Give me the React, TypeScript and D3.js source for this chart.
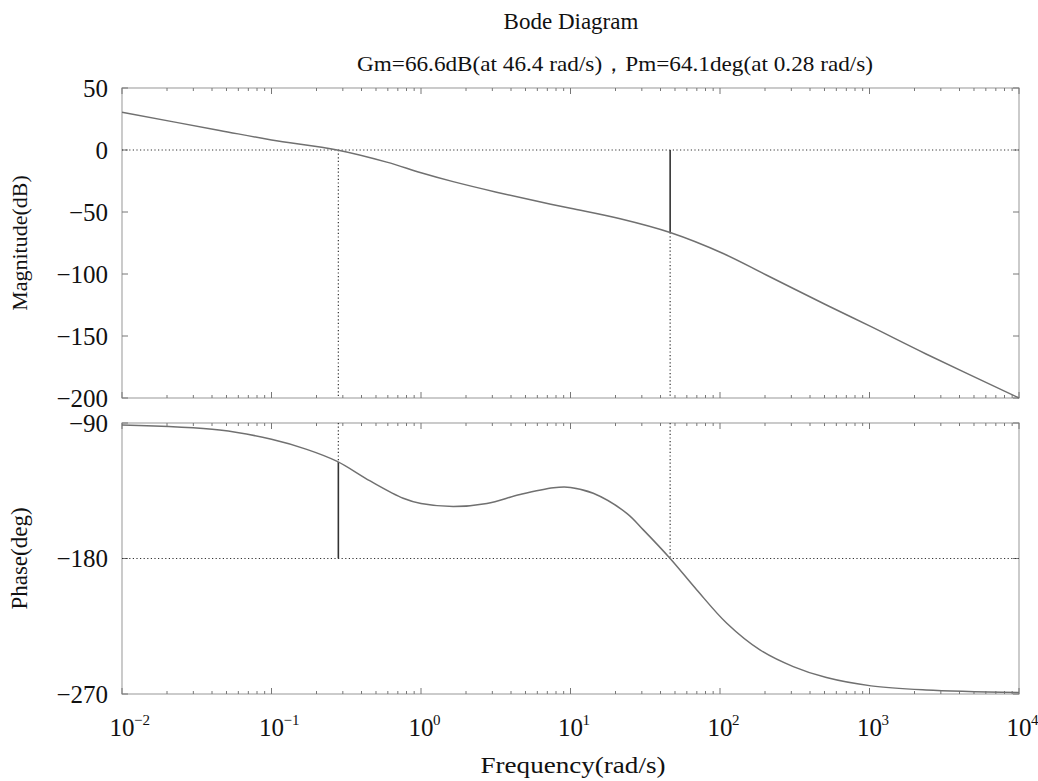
import React from "react";
import * as d3 from "d3";

// magnitude curve (rad/s, dB)
const magFreq = [0.01, 0.045, 0.1, 0.275, 0.59, 1.0, 1.64, 3.2, 5.9, 10, 21.5, 46.4, 105, 204, 515, 1025, 2390, 10000];
const magDb = [30.4, 15.8, 8.1, 0, -9.8, -18.3, -25.5, -34, -41.2, -47, -55.5, -66.6, -83.5, -100.8, -125, -142.5, -164.5, -200];

// phase curve (rad/s, deg)
const phaseFreq = [0.01, 0.045, 0.1, 0.172, 0.275, 0.457, 0.76, 1.0, 1.64, 2.76, 4.6, 7.7, 10, 14.2, 23.8, 30.7, 46.4, 70, 111, 185, 309, 515, 1025, 2390, 10000];
const phaseDeg = [-91.3, -94.6, -100.8, -107.5, -115.5, -128.5, -140, -143.5, -145.5, -143.5, -137.5, -133, -132.8, -136.7, -150, -161, -180, -200.9, -223, -240.7, -251.8, -259.1, -264.6, -267.3, -269];

const magTicks = [50, 0, -50, -100, -150, -200];
const phaseTicks = [-90, -180, -270];
const decades = [-2, -1, 0, 1, 2, 3, 4];

const gmFreq = 46.4;
const gmDb = -66.6;
const pmFreq = 0.28;
const pmDeg = -115.9;

const FONT = "'Liberation Serif', 'Times New Roman', serif";
const BOX = "#a8a8a8";
const TICK = "#777";
const CURVE = "#707070";
const MARK = "#333";

function Panel({ x, y, ticks }) {
  const [x0, x1] = x.range();
  const [yb, yt] = y.range();
  const minors = [];
  decades.slice(0, -1).forEach(d => {
    for (let k = 2; k < 10; k++) minors.push(k * Math.pow(10, d));
  });
  return (
    <g>
      <rect x={x0} y={yt} width={x1 - x0} height={yb - yt} fill="none" stroke={BOX} strokeWidth={1.2} />
      {decades.map(d => {
        const px = x(Math.pow(10, d));
        return (
          <g key={"M" + d} stroke={TICK} strokeWidth={1}>
            <line x1={px} x2={px} y1={yt} y2={yt + 6} />
            <line x1={px} x2={px} y1={yb} y2={yb - 6} />
          </g>
        );
      })}
      {minors.map((f, i) => {
        const px = x(f);
        return (
          <g key={"m" + i} stroke={TICK} strokeWidth={1}>
            <line x1={px} x2={px} y1={yt} y2={yt + 3} />
            <line x1={px} x2={px} y1={yb} y2={yb - 3} />
          </g>
        );
      })}
      {ticks.map(t => (
        <g key={"y" + t}>
          <line x1={x0} x2={x0 + 6} y1={y(t)} y2={y(t)} stroke={TICK} />
          <line x1={x1} x2={x1 - 6} y1={y(t)} y2={y(t)} stroke={TICK} />
          <text x={x0 - 14} y={y(t)} dy="0.35em" textAnchor="end" fontSize={25} fontFamily={FONT} fill="#111">
            {t < 0 ? "\u2212" + Math.abs(t) : t}
          </text>
        </g>
      ))}
    </g>
  );
}

export default function App() {
  const width = 1038;
  const height = 781;

  const x = d3.scaleLog().domain([1e-2, 1e4]).range([122, 1019]);
  const yMag = d3.scaleLinear().domain([-200, 50]).range([398, 88]);
  const yPh = d3.scaleLinear().domain([-270, -90]).range([694, 423]);

  const curve = d3.curveCatmullRom.alpha(0.5);
  const magPath = d3.line().x((d, i) => x(magFreq[i])).y(d => yMag(d)).curve(curve)(magDb);
  const phPath = d3.line().x((d, i) => x(phaseFreq[i])).y(d => yPh(d)).curve(curve)(phaseDeg);

  const dots = { stroke: MARK, strokeWidth: 1.2, strokeDasharray: "1.2,2.4" };
  const solid = { stroke: MARK, strokeWidth: 1.6 };

  return (
    <svg width={width} height={height} style={{ position: "absolute", left: 0, top: 0, background: "#fff" }}>
      <text x={571} y={29} textAnchor="middle" fontSize={23} fontFamily={FONT} fill="#111">Bode Diagram</text>
      <text x={615} y={71} textAnchor="middle" fontSize={22} fontFamily={FONT} fill="#111" textLength={516} lengthAdjust="spacingAndGlyphs">
        Gm=66.6dB(at 46.4 rad/s)，Pm=64.1deg(at 0.28 rad/s)
      </text>

      <Panel x={x} y={yMag} ticks={magTicks} />
      <Panel x={x} y={yPh} ticks={phaseTicks} />

      {/* crossover reference lines */}
      <line x1={x(1e-2)} x2={x(1e4)} y1={yMag(0)} y2={yMag(0)} {...dots} />
      <line x1={x(1e-2)} x2={x(1e4)} y1={yPh(-180)} y2={yPh(-180)} {...dots} />
      <line x1={x(pmFreq)} x2={x(pmFreq)} y1={yMag(0)} y2={yMag(-200)} {...dots} />
      <line x1={x(gmFreq)} x2={x(gmFreq)} y1={yMag(gmDb)} y2={yMag(-200)} {...dots} />
      <line x1={x(gmFreq)} x2={x(gmFreq)} y1={yMag(0)} y2={yMag(gmDb)} {...solid} />
      <line x1={x(pmFreq)} x2={x(pmFreq)} y1={yPh(-90)} y2={yPh(pmDeg)} {...dots} />
      <line x1={x(pmFreq)} x2={x(pmFreq)} y1={yPh(pmDeg)} y2={yPh(-180)} {...solid} />
      <line x1={x(gmFreq)} x2={x(gmFreq)} y1={yPh(-90)} y2={yPh(-180)} {...dots} />

      <path d={magPath} fill="none" stroke={CURVE} strokeWidth={1.5} />
      <path d={phPath} fill="none" stroke={CURVE} strokeWidth={1.5} />

      {decades.map(d => (
        <g key={d}>
          <text x={x(Math.pow(10, d))} y={736} textAnchor="middle" fontSize={25} fontFamily={FONT} fill="#111">10</text>
          <text x={x(Math.pow(10, d)) + 12} y={725} textAnchor="start" fontSize={15} fontFamily={FONT} fill="#111">
            {d < 0 ? "\u2212" + Math.abs(d) : d}
          </text>
        </g>
      ))}

      <text x={573} y={773} textAnchor="middle" fontSize={24} fontFamily={FONT} fill="#111" textLength={185} lengthAdjust="spacingAndGlyphs">Frequency(rad/s)</text>
      <text transform={`translate(27,${yMag(-75)}) rotate(-90)`} textAnchor="middle" fontSize={22} fontFamily={FONT} fill="#111">Magnitude(dB)</text>
      <text transform={`translate(27,${yPh(-180)}) rotate(-90)`} textAnchor="middle" fontSize={23} fontFamily={FONT} fill="#111">Phase(deg)</text>
    </svg>
  );
}
